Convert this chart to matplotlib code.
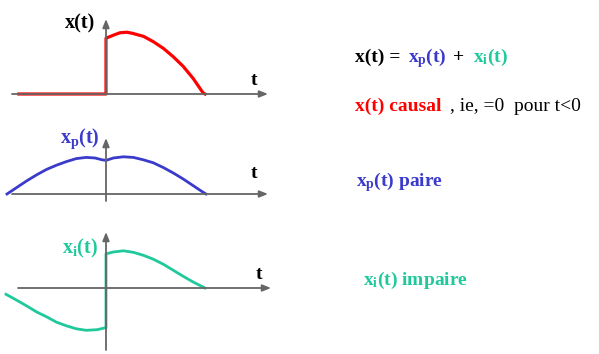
import matplotlib
matplotlib.use("Agg")
import matplotlib.pyplot as plt

W, H = 599, 354

# signals, t in units (t=1 where the curves end), amplitude in arbitrary units
t_x = [-0.88, 0.0, 0.0, 0.074, 0.14, 0.21, 0.27, 0.38, 0.48, 0.58, 0.68, 0.78, 0.88, 0.98, 1.0]
v_x = [0.0, 0.0, 0.93, 0.98, 1.02, 1.03, 1.01, 0.96, 0.87, 0.76, 0.62, 0.46, 0.26, 0.02, 0.0]

t_p = [-1.0, -0.90, -0.80, -0.70, -0.60, -0.50, -0.40, -0.30, -0.20, -0.11, -0.04, 0.0,
       0.074, 0.175, 0.276, 0.377, 0.478, 0.58, 0.68, 0.78, 0.88, 0.98, 1.01]
v_p = [0.0, 0.11, 0.22, 0.32, 0.41, 0.48, 0.54, 0.59, 0.61, 0.60, 0.57, 0.56,
       0.60, 0.62, 0.61, 0.57, 0.52, 0.44, 0.35, 0.25, 0.14, 0.03, 0.0]

t_i = [-1.01, -0.90, -0.80, -0.70, -0.60, -0.50, -0.40, -0.30, -0.20, -0.09, 0.0,
       0.0, 0.074, 0.175, 0.276, 0.377, 0.478, 0.58, 0.68, 0.78, 0.88, 1.0]
v_i = [-0.105, -0.205, -0.30, -0.40, -0.48, -0.57, -0.63, -0.68, -0.705, -0.695, -0.66,
       0.57, 0.60, 0.62, 0.595, 0.545, 0.48, 0.395, 0.295, 0.195, 0.10, 0.0]

RED = "#ff0000"
BLUE = "#3a3acb"
GREEN = "#1fc99c"

plt.rcParams["font.family"] = ["Liberation Serif", "DejaVu Serif"]
plt.rcParams["mathtext.fontset"] = "custom"
plt.rcParams["mathtext.rm"] = "Liberation Serif"
plt.rcParams["mathtext.it"] = "Liberation Serif"
plt.rcParams["mathtext.bf"] = "Liberation Serif:bold"

fig = plt.figure(figsize=(W / 100, H / 100), dpi=100)

X0 = 106   # pixel column of the vertical axis
SX = 99.0  # pixels per t unit
SY = 60.0  # pixels per amplitude unit


def panel(top, bottom, y0):
    ax = fig.add_axes([0, 1 - bottom / H, 300 / W, (bottom - top) / H])
    ax.set_xlim(-X0 / SX, (300 - X0) / SX)
    ax.set_ylim(-(bottom - y0) / SY, (y0 - top) / SY)
    ax.axis("off")
    return ax


def px(x, y0, y):
    # pixel -> data helper for the axis arrows
    return (x - X0) / SX, (y0 - y) / SY


def arrow(ax, p0, p1):
    ax.annotate("", xy=p1, xytext=p0,
                arrowprops=dict(arrowstyle="-|>,head_length=0.5,head_width=0.2",
                                color="#666666", lw=1.3, shrinkA=0, shrinkB=0))


# panel 1 : x(t)
ax1 = panel(0, 110, 94)
arrow(ax1, px(12, 94, 94), px(268, 94, 94))
arrow(ax1, px(X0, 94, 94), px(X0, 94, 19))
ax1.plot(t_x, v_x, color=RED, lw=2.3, solid_joinstyle="round")

# panel 2 : x_p(t)
ax2 = panel(110, 220, 194)
arrow(ax2, px(12, 194, 194), px(268, 194, 194))
arrow(ax2, px(X0, 194, 201), px(X0, 194, 138))
ax2.plot(t_p, v_p, color=BLUE, lw=2.0, solid_joinstyle="round")

# panel 3 : x_i(t)
ax3 = panel(220, 354, 288)
arrow(ax3, px(18, 288, 288), px(271, 288, 288))
arrow(ax3, px(X0, 288, 350), px(X0, 288, 232))
ax3.plot(t_i, v_i, color=GREEN, lw=2.0, solid_joinstyle="round")


def txt(x, y, s, color="black", size=14, weight="bold"):
    return fig.text(x / W, 1 - y / H, s, color=color, fontsize=size,
                    fontweight=weight, ha="left", va="baseline")


# left labels
txt(65, 28, r"x(t)", size=14.5)
txt(60, 143, r"x$_\mathbf{p}$(t)", color=BLUE, size=14.5)
txt(62, 253, r"x$_\mathbf{i}$(t)", color=GREEN, size=14.5)
txt(251, 85, "t")
txt(251, 178, "t")
txt(256, 279, "t")

# right text
txt(355, 62, "x(t) =")
txt(408, 62, r"x$_\mathbf{p}$(t)", color=BLUE)
txt(453, 62, "+")
txt(473, 62, r"x$_\mathbf{i}$(t)", color=GREEN)
txt(355, 111, "x(t) causal", color=RED)
txt(450, 111, ", ie, =0  pour t<0", weight="normal")
txt(356, 186, r"x$_\mathbf{p}$(t) paire", color=BLUE)
txt(363, 285, r"x$_\mathbf{i}$(t) impaire", color=GREEN)

fig.savefig("out.png", dpi=100)
